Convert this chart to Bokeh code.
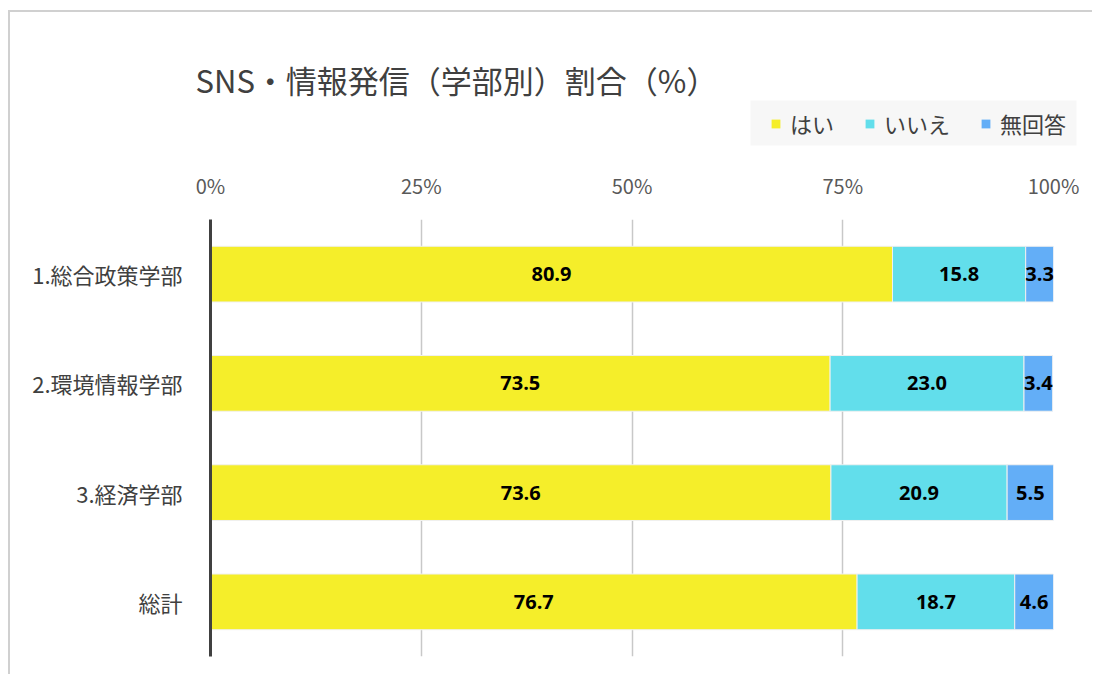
from bokeh.plotting import figure
from bokeh.models import (ColumnDataSource, FactorRange, Range1d, FixedTicker,
                          CustomJSTickFormatter, Legend, LegendItem, Label, BoxAnnotation)
from bokeh.core.properties import value
from bokeh.embed import file_html
from bokeh.resources import INLINE

categories = ["1.総合政策学部", "2.環境情報学部", "3.経済学部", "総計"]
series_names = ["はい", "いいえ", "無回答"]
yes_vals = [80.9, 73.5, 73.6, 76.7]
no_vals = [15.8, 23.0, 20.9, 18.7]
na_vals = [3.3, 3.4, 5.5, 4.6]
x_ticks = [0, 25, 50, 75, 100]
title_text = "SNS・情報発信（学部別）割合（%）"

colors = ["#F5EE2A", "#62DEEB", "#63AEF7"]
JP = "Noto Sans CJK JP"
TXT = "#404040"
BORDER = "2px solid #d0d0d0"

data = {"cat": categories, "はい": yes_vals, "いいえ": no_vals, "無回答": na_vals}
data["c_yes"] = [v / 2 for v in yes_vals]
data["c_no"] = [a + b / 2 for a, b in zip(yes_vals, no_vals)]
data["c_na"] = [a + b + c / 2 for a, b, c in zip(yes_vals, no_vals, na_vals)]
data["t_yes"] = [f"{v:.1f}" for v in yes_vals]
data["t_no"] = [f"{v:.1f}" for v in no_vals]
data["t_na"] = [f"{v:.1f}" for v in na_vals]
src = ColumnDataSource(data)

# ---------- header: title + legend ----------
HEAD_H = 150
head = figure(width=1084, height=HEAD_H, output_backend="svg", toolbar_location=None,
              x_range=Range1d(0, 1), y_range=Range1d(0, 1),
              min_border=0, min_border_left=0, min_border_right=0,
              min_border_top=0, min_border_bottom=0)
head.axis.visible = False
head.grid.visible = False
head.outline_line_color = None
head.title.visible = False
head.margin = (10, 0, 0, 8)
head.styles = {"border-top": BORDER, "border-left": BORDER}

head.add_layout(Label(x=185, y=HEAD_H - 67, x_units="screen", y_units="screen",
                      text=title_text, text_font=JP, text_font_size="31px",
                      text_color=TXT, text_baseline="middle", text_align="left"))

# legend background panel
head.add_layout(BoxAnnotation(left=740, right=1066, bottom=HEAD_H - 133, top=HEAD_H - 88,
                              left_units="screen", right_units="screen",
                              top_units="screen", bottom_units="screen",
                              fill_color="#f7f7f7", fill_alpha=1, line_color=None,
                              level="underlay"))

# legend key proxies: hidden copies of the stacked series (same data source)
key_renderers = []
for name, c in zip(series_names, colors):
    r = head.hbar(y=0.5, left=0, right=name, height=0.5, source=src,
                  fill_color=c, line_color=None)
    r.visible = False
    key_renderers.append(r)

legend = Legend(items=[LegendItem(label=n, renderers=[r])
                       for n, r in zip(series_names, key_renderers)],
                orientation="horizontal", location=(760, HEAD_H - 127),
                background_fill_alpha=0, border_line_color=None,
                label_text_font=JP, label_text_font_size="22px",
                label_text_color=TXT, glyph_width=11, glyph_height=11,
                spacing=30, padding=0, margin=0, label_standoff=9, label_height=28,
                inactive_fill_alpha=0)
head.add_layout(legend)

# ---------- main bar chart ----------
MAIN_H = 676 - 12 - HEAD_H
p = figure(width=1084, height=MAIN_H, output_backend="svg", toolbar_location=None,
           y_range=FactorRange(*reversed(categories), range_padding=0),
           x_range=Range1d(0, 100), x_axis_location="above",
           min_border_left=200, min_border_right=41,
           min_border_top=221 - 12 - HEAD_H, min_border_bottom=18)
p.title.visible = False
p.outline_line_color = None
p.margin = (0, 0, 0, 8)
p.styles = {"border-left": BORDER}

rs = p.hbar_stack(series_names, y="cat", height=0.51, color=colors, source=src,
                  line_color="#f0f0f0", line_width=1)

for cx, tx in [("c_yes", "t_yes"), ("c_no", "t_no"), ("c_na", "t_na")]:
    p.text(x=cx, y="cat", text=tx, source=src, text_align="center", text_baseline="middle",
           text_font=value("Open Sans"), text_font_style="bold", text_font_size="20px",
           text_color="black")

xa = p.xaxis[0]
xa.ticker = FixedTicker(ticks=x_ticks)
xa.formatter = CustomJSTickFormatter(code="return tick + '%';")
xa.axis_line_color = None
xa.major_tick_line_color = None
xa.minor_tick_line_color = None
xa.major_label_text_font = JP
xa.major_label_text_font_size = "20px"
xa.major_label_text_color = "#595959"
xa.major_label_standoff = 14

ya = p.yaxis[0]
ya.axis_line_color = TXT
ya.axis_line_width = 3
ya.major_tick_line_color = None
ya.minor_tick_line_color = None
ya.major_label_text_font = JP
ya.major_label_text_font_size = "22px"
ya.major_label_text_color = TXT
ya.major_label_standoff = 22

p.ygrid.grid_line_color = None
p.xgrid.grid_line_color = "#c8c8c8"
p.xgrid.grid_line_width = 1.5
p.xgrid.ticker = FixedTicker(ticks=x_ticks)

open("out.html", "w").write(file_html([head, p], INLINE))
